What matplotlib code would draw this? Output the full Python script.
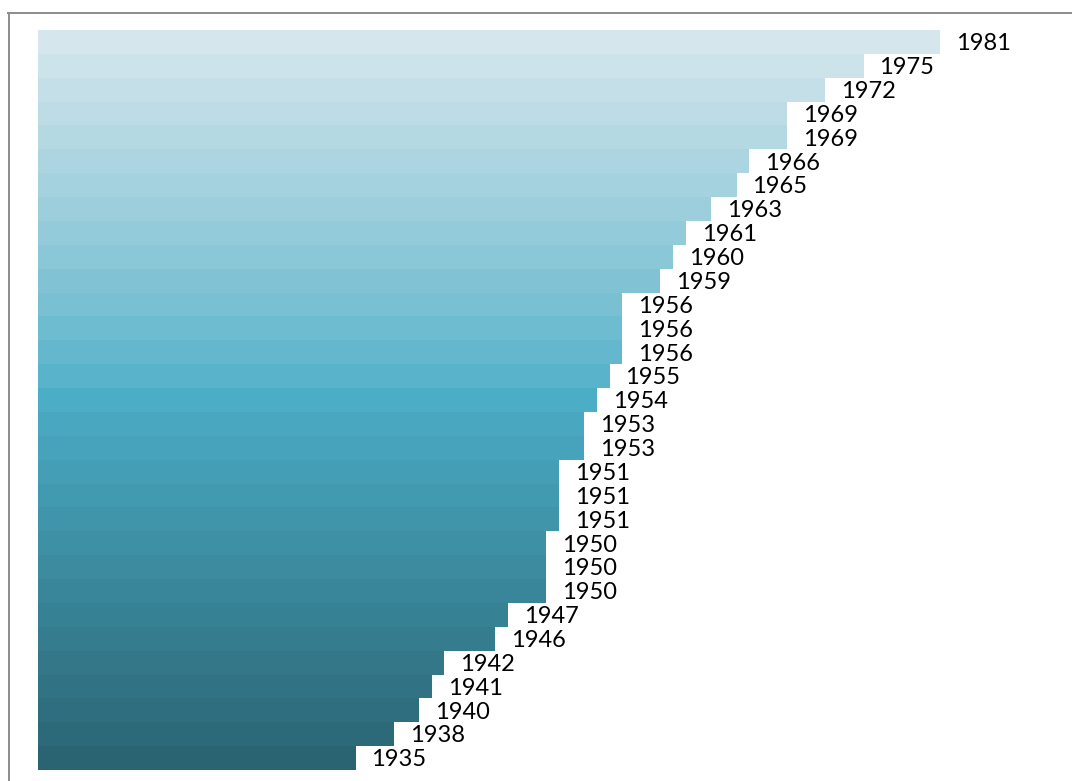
import numpy as np
import matplotlib
matplotlib.use("Agg")
import matplotlib.pyplot as plt
from matplotlib.colors import to_rgb
from matplotlib.lines import Line2D

# values, bottom bar first
years = [1935, 1938, 1940, 1941, 1942, 1946, 1947, 1950, 1950, 1950,
         1951, 1951, 1951, 1953, 1953, 1954, 1955, 1956, 1956, 1956,
         1959, 1960, 1961, 1963, 1965, 1966, 1969, 1969, 1972, 1975, 1981]
base_year = 1910

W, H, DPI = 1072, 781, 100
fig = plt.figure(figsize=(W / DPI, H / DPI), dpi=DPI)

# bars area in pixels: x from 38, y from 30 to 770, ~12.7 px per year
px_per_year = 12.7
ax = fig.add_axes([38 / W, 11 / H, (W - 38) / W, 740 / H])

# gradient: dark teal at bottom -> bright teal in middle -> pale at top
c_bot, c_mid, c_top = (np.array(to_rgb(c)) for c in ("#2a6473", "#4badc6", "#d5e6ec"))
n = len(years)
mid = n // 2
colors = []
for i in range(n):
    if i <= mid:
        t = i / mid
        colors.append(c_bot + (c_mid - c_bot) * t)
    else:
        t = (i - mid) / (n - 1 - mid)
        colors.append(c_mid + (c_top - c_mid) * t ** 0.85)

y = np.arange(n)
widths = [v - base_year for v in years]
ax.barh(y, widths, left=base_year, height=1.0, color=colors, linewidth=0)

for i, v in enumerate(years):
    ax.annotate(str(v), (v, i), xytext=(11.5, -1.3), textcoords="offset points",
                ha="left", va="center", fontsize=17, family="Lato", color="black")

ax.set_xlim(base_year, base_year + (W - 38) / px_per_year)
ax.set_ylim(-0.5, n - 0.5)
ax.axis("off")

# outer frame (only top and left edges visible)
border = "#8c8c8c"
fig.add_artist(Line2D([8.5 / W, 8.5 / W], [0, (H - 12.5) / H], transform=fig.transFigure,
                      color=border, linewidth=1.4))
fig.add_artist(Line2D([8 / W, 1], [(H - 12.5) / H, (H - 12.5) / H], transform=fig.transFigure,
                      color=border, linewidth=1.4))

fig.savefig("out.png", dpi=DPI)
